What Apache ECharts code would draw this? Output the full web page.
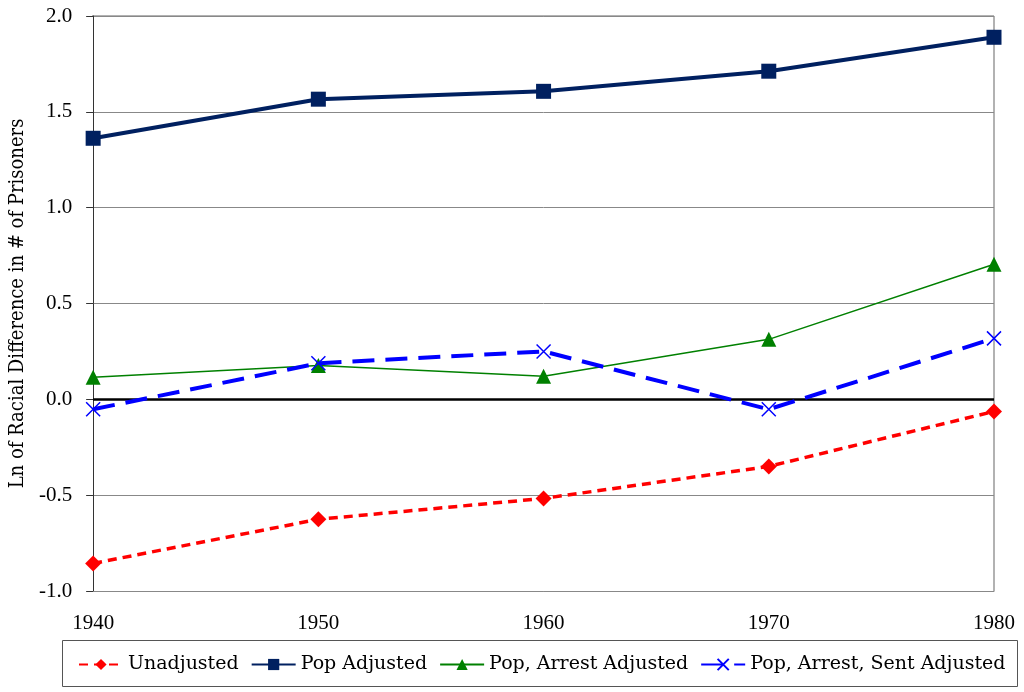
<!DOCTYPE html>
<html><head><meta charset="utf-8">
<script src="https://cdn.jsdelivr.net/npm/echarts@6/dist/echarts.min.js"></script>
<style>html,body{margin:0;padding:0;background:#fff}#c{width:1024px;height:692px}</style>
</head><body><div id="c"></div>
<script>
const years = ['1940','1950','1960','1970','1980'];
const unadjusted = [-0.856, -0.626, -0.517, -0.350, -0.063];
const popAdjusted = [1.362, 1.566, 1.607, 1.712, 1.889];
const popArrest = [0.115, 0.177, 0.120, 0.313, 0.705];
const popArrestSent = [-0.052, 0.188, 0.250, -0.052, 0.318];
const seriesNames = ['Unadjusted','Pop Adjusted','Pop, Arrest Adjusted','Pop, Arrest, Sent Adjusted'];

const NUMFONT = '"Liberation Serif"';
const TXTFONT = '"DejaVu Serif"';
const TITLEFONT = '"DejaVu Serif Condensed", "DejaVu Serif"';
const chart = echarts.init(document.getElementById('c'));
const xPath = 'path://M0,0L10,10M10,0L0,10';
chart.setOption({
  animation: false,
  textStyle: {fontFamily: NUMFONT},
  grid: {left: 92, right: 30, top: 16, bottom: 101},
  xAxis: {
    type: 'category', data: years, boundaryGap: false,
    axisLine: {show: true, onZero: false, lineStyle: {color: '#888', width: 1}},
    axisTick: {show: false},
    axisLabel: {color: '#000', fontSize: 21, fontFamily: NUMFONT, margin: 22},
    splitLine: {show: false}
  },
  yAxis: {
    type: 'value', min: -1, max: 2, interval: 0.5,
    name: 'Ln of Racial Difference in # of Prisoners',
    nameLocation: 'middle', nameGap: 60,
    nameTextStyle: {color: '#000', fontSize: 20, fontFamily: TITLEFONT},
    axisLine: {show: true, lineStyle: {color: '#333', width: 1}},
    axisTick: {show: true, length: 7, lineStyle: {color: '#333'}},
    axisLabel: {color: '#000', fontSize: 21, fontFamily: NUMFONT, margin: 21, formatter: v => v.toFixed(1)},
    splitLine: {show: true, lineStyle: {color: '#888', width: 1}}
  },
  graphic: [
    {type: 'rect', left: 60, top: 638, shape: {width: 955, height: 46}, style: {fill: 'none', stroke: '#555', lineWidth: 1}},
    {type: 'line', shape: {x1: 92, y1: 16, x2: 994, y2: 16}, style: {stroke: '#999', lineWidth: 1.5}},
    {type: 'line', shape: {x1: 994, y1: 16, x2: 994, y2: 591}, style: {stroke: '#999', lineWidth: 1.5}}
  ],
  legend: {
    left: 73, top: 650, itemGap: 12, itemWidth: 44, itemHeight: 14,
    textStyle: {color: '#000', fontSize: 19, fontFamily: TXTFONT},
    data: seriesNames
  },
  series: [
    {name: seriesNames[0], type: 'line', data: unadjusted, symbol: 'diamond', symbolSize: 16,
      lineStyle: {color: '#FF0000', width: 3.5, type: [9, 6]}, itemStyle: {color: '#FF0000'}, z: 3,
      markLine: {silent: true, symbol: 'none', label: {show: false},
        lineStyle: {color: '#000', width: 2.5, type: 'solid'}, data: [{yAxis: 0}]}},
    {name: seriesNames[1], type: 'line', data: popAdjusted, symbol: 'rect', symbolSize: 15,
      lineStyle: {color: '#002060', width: 4}, itemStyle: {color: '#002060'}, z: 4},
    {name: seriesNames[2], type: 'line', data: popArrest, symbol: 'triangle', symbolSize: 15,
      lineStyle: {color: '#008000', width: 1.5}, itemStyle: {color: '#008000'}, z: 5},
    {name: seriesNames[3], type: 'line', data: popArrestSent, symbol: xPath, symbolSize: 14,
      lineStyle: {color: '#0000FF', width: 4, type: [22, 11]},
      itemStyle: {color: 'none', borderColor: '#0000FF', borderWidth: 1.5}, z: 6}
  ]
});
</script></body></html>
